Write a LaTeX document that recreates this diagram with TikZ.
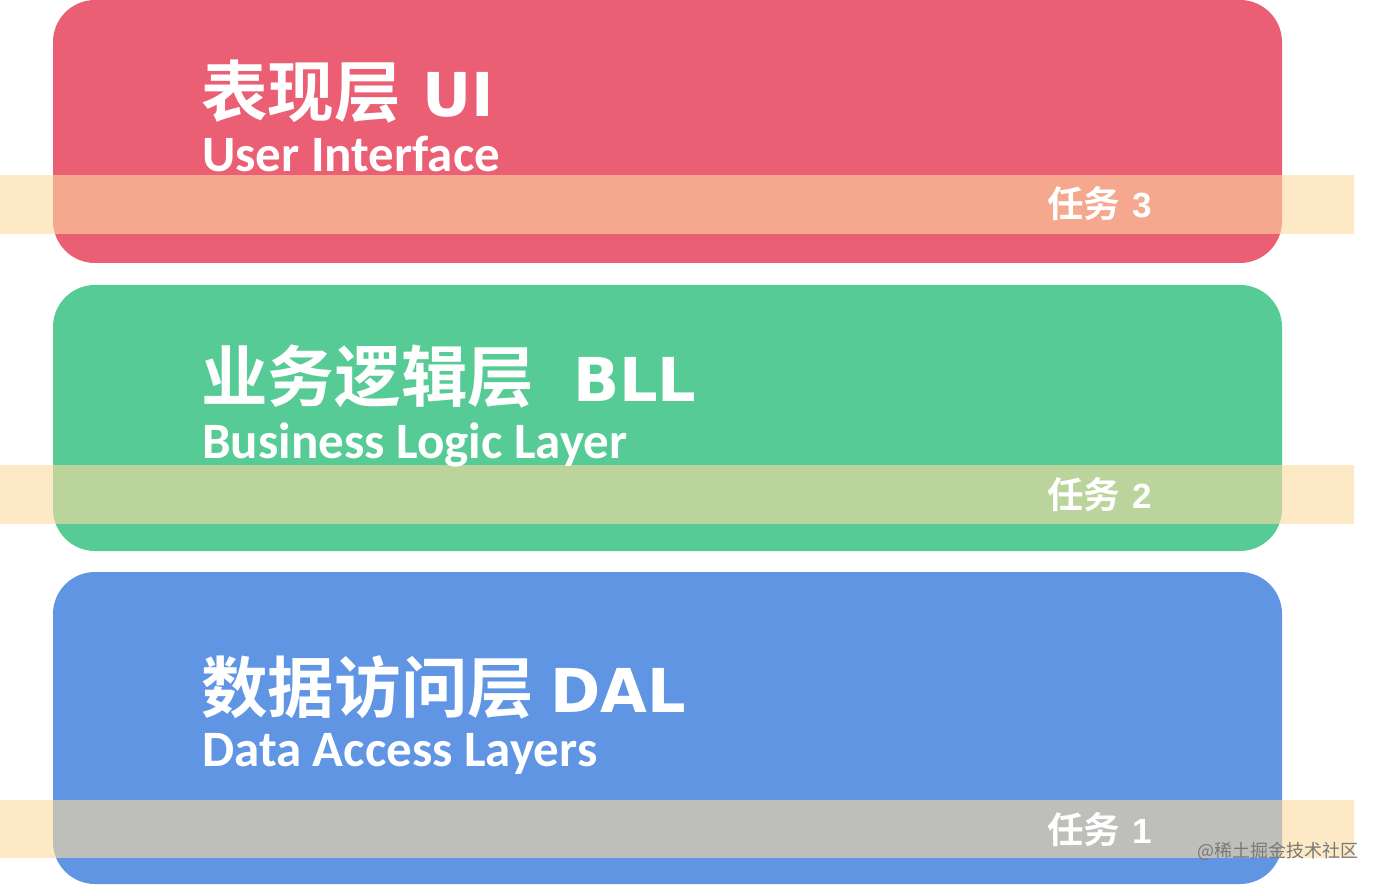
\documentclass[tikz,border=0pt]{standalone}
\usepackage{fontspec}
\newfontfamily\cjkfont{Noto Sans CJK SC}[BoldFont={Noto Sans CJK SC Bold}]
\newfontfamily\carfont{Carlito}
\newfontfamily\latfont{DejaVu Sans}
\newfontfamily\arifont{Liberation Sans}
\definecolor{cred}{RGB}{234,95,116}
\definecolor{cgreen}{RGB}{87,203,149}
\definecolor{cblue}{RGB}{96,149,227}
\definecolor{cband}{RGB}{254,218,160}
\definecolor{cwm}{RGB}{120,120,120}
\newcommand{\lat}[1]{{\latfont\bfseries\fontsize{60.5}{60.5}\selectfont #1}}
\newcommand{\dig}[1]{{\arifont\bfseries\fontsize{35}{35}\selectfont #1}}
\tikzset{
  layer/.style={rounded corners=42pt},
  band/.style={fill=cband, fill opacity=0.6},
  title/.style={anchor=base west, inner sep=0pt, text=white, font=\cjkfont\bfseries\fontsize{66.6}{66.6}\selectfont},
  sub/.style={anchor=base west, inner sep=0pt, text=white, font=\carfont\bfseries\fontsize{51}{51}\selectfont},
  task/.style={anchor=base west, inner sep=0pt, text=white, font=\cjkfont\bfseries\fontsize{36.5}{36.5}\selectfont},
}
\begin{document}
\begin{tikzpicture}[x=1pt,y=-1pt]
\useasboundingbox (0,0) rectangle (1382,885);
% layers
\fill[cred, layer] (53,0) rectangle (1282,263);
\fill[cgreen, layer] (53,285) rectangle (1282,551);
\fill[cblue, layer] (53,572) rectangle (1282,884);
% bands
\fill[band] (0,175) rectangle (1354,234);
\fill[band] (0,465) rectangle (1354,524);
\fill[band] (0,800) rectangle (1354,858);
% texts
\node[title] (t1) at (201,117) {表现层\hspace{21pt}\lat{UI}};
\node[sub] (s1) at (202,172) {User Interface};
\node[title] (t2) at (201,402) {业务逻辑层\hspace{39pt}\lat{BLL}};
\node[sub] (s2) at (202,458) {Business Logic Layer};
\node[title] (t3) at (201,712) {数据访问层\hspace{16pt}\lat{DAL}};
\node[sub] (s3) at (202,766) {Data Access Layers};
\node[task] (k3) at (1047,218) {任务\hspace{12pt}\dig{3}};
\node[task] (k2) at (1047,508) {任务\hspace{12pt}\dig{2}};
\node[task] (k1) at (1047,843) {任务\hspace{12pt}\dig{1}};
\node[anchor=base west, inner sep=0pt, text=cwm, font=\cjkfont\fontsize{18}{18}\selectfont] (wm) at (1197,857) {@稀土掘金技术社区};
\end{tikzpicture}
\end{document}
